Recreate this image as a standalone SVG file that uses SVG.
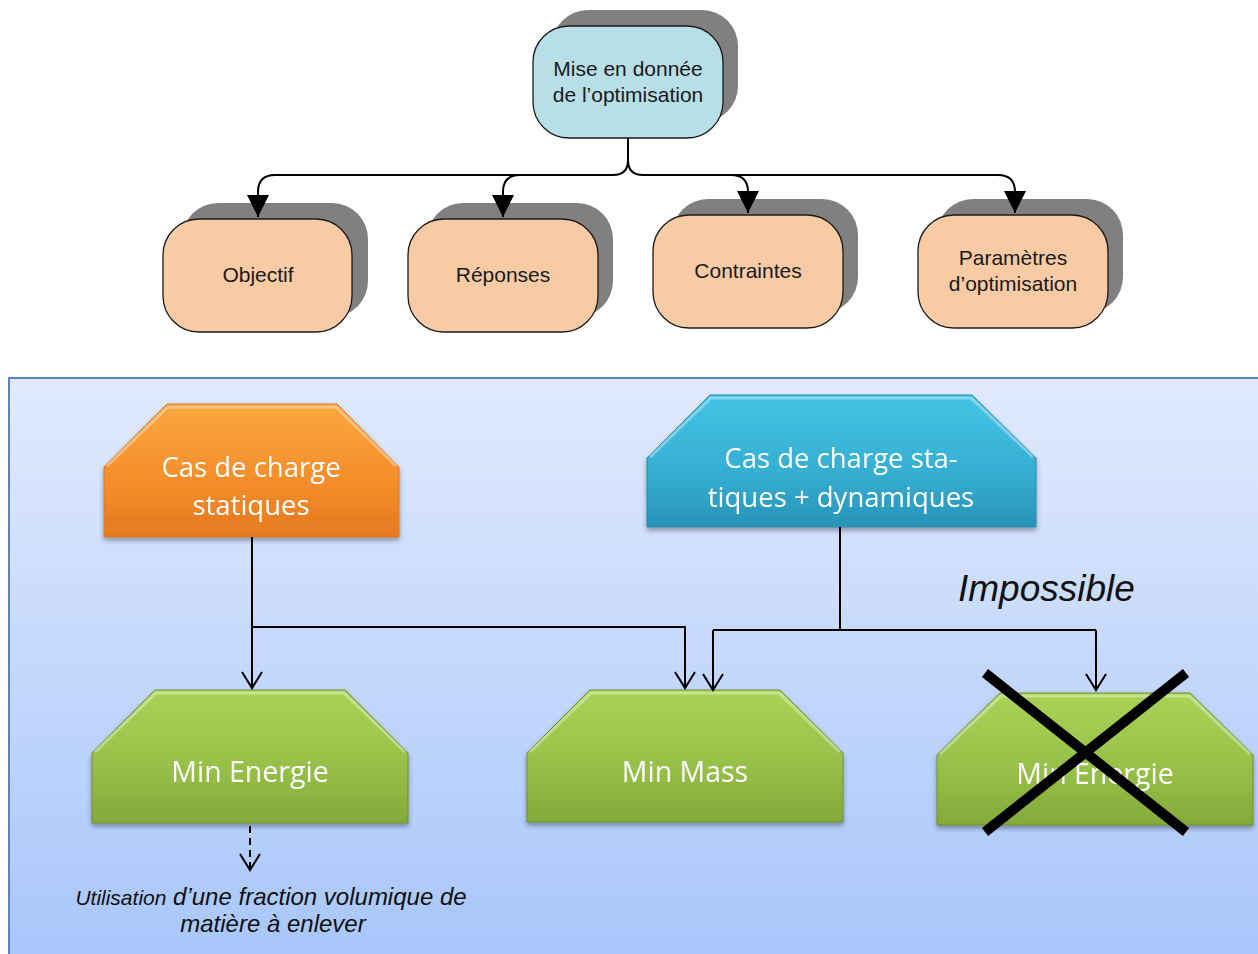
<svg xmlns="http://www.w3.org/2000/svg" width="1258" height="954" viewBox="0 0 1258 954">
<defs>
<linearGradient id="panelG" x1="0" y1="0" x2="0" y2="1">
<stop offset="0" stop-color="#e1eafd"/>
<stop offset="1" stop-color="#a6c5fb"/>
</linearGradient>
<linearGradient id="orangeG" x1="0" y1="0" x2="0" y2="1">
<stop offset="0" stop-color="#fca63f"/>
<stop offset="0.6" stop-color="#f48d2a"/>
<stop offset="1" stop-color="#e5781f"/>
</linearGradient>
<linearGradient id="blueG" x1="0" y1="0" x2="0" y2="1">
<stop offset="0" stop-color="#44c3e4"/>
<stop offset="0.6" stop-color="#35aed2"/>
<stop offset="1" stop-color="#2893b6"/>
</linearGradient>
<linearGradient id="greenG" x1="0" y1="0" x2="0" y2="1">
<stop offset="0" stop-color="#a9d356"/>
<stop offset="0.6" stop-color="#96bf47"/>
<stop offset="1" stop-color="#83a93a"/>
</linearGradient>
<filter id="sh" x="-10%" y="-10%" width="120%" height="130%">
<feDropShadow dx="0" dy="3" stdDeviation="2.5" flood-color="#000" flood-opacity="0.35"/>
</filter>
<marker id="fill" markerUnits="userSpaceOnUse" markerWidth="24" markerHeight="24" viewBox="0 0 24 24" refX="22" refY="12" orient="auto">
<path d="M0,1 L22,12 L0,23 Z" fill="#000"/>
</marker>
<marker id="open" markerUnits="userSpaceOnUse" markerWidth="20" markerHeight="22" viewBox="0 0 20 22" refX="17" refY="11" orient="auto">
<path d="M1,1 L17,11 L1,21" fill="none" stroke="#000" stroke-width="2"/>
</marker>
</defs>
<style>
.shadow{fill:#808080}
.top{fill:#b8dfe8;stroke:#1a1a1a;stroke-width:1.3}
.sub{fill:#f8cba5;stroke:#1a1a1a;stroke-width:1.3}
.t1{font-family:"Liberation Sans",Arial,sans-serif;font-size:21px;fill:#1a1a1a;text-anchor:middle}
.t2{font-family:"Open Sans","Noto Sans",sans-serif;font-size:27.5px;fill:#fff;text-anchor:middle}
.t3{font-family:"Open Sans","Noto Sans",sans-serif;font-size:28.5px;fill:#fff;text-anchor:middle}
.hl{fill:none;stroke:#fff;stroke-opacity:0.35;stroke-width:3}
.c{fill:none;stroke:#000;stroke-width:2}
.it{font-family:"Liberation Sans",Arial,sans-serif;font-style:italic;fill:#111}
</style>
<rect x="9" y="378" width="1270" height="600" fill="url(#panelG)" stroke="#5a84bd" stroke-width="2"/>

<g id="node-mise">
<rect class="shadow" x="552" y="10" width="186" height="112" rx="36"/>
<rect class="top" x="533" y="26" width="190" height="112" rx="36"/>
<text class="t1" x="628" y="76">Mise en donnée</text>
<text class="t1" x="628" y="102">de l’optimisation</text>
</g>
<g id="node-objectif">
<rect class="shadow" x="182" y="203" width="186" height="114" rx="36"/>
<rect class="sub" x="163" y="219" width="189" height="113" rx="36"/>
<text class="t1" x="258" y="282">Objectif</text>
</g>
<g id="node-reponses">
<rect class="shadow" x="427" y="203" width="186" height="114" rx="36"/>
<rect class="sub" x="408" y="219" width="190" height="113" rx="36"/>
<text class="t1" x="503" y="282">Réponses</text>
</g>
<g id="node-contraintes">
<rect class="shadow" x="672" y="199" width="186" height="114" rx="36"/>
<rect class="sub" x="653" y="215" width="190" height="113" rx="36"/>
<text class="t1" x="748" y="278">Contraintes</text>
</g>
<g id="node-parametres">
<rect class="shadow" x="937" y="199" width="186" height="114" rx="36"/>
<rect class="sub" x="918" y="215" width="190" height="113" rx="36"/>
<text class="t1" x="1013" y="265">Paramètres</text>
<text class="t1" x="1013" y="291">d’optimisation</text>
</g>

<g id="node-statiques" filter="url(#sh)">
<polygon points="104,467 167,404 337,404 399,467 399,537 104,537" fill="url(#orangeG)" stroke="#d97a2a" stroke-width="1"/>
<polyline class="hl" points="107,466 168,407 336,407 396,466"/>
<text class="t2" x="251" y="477">Cas de charge</text>
<text class="t2" x="251" y="515">statiques</text>
</g>
<g id="node-dynamiques" filter="url(#sh)">
<polygon points="647,458 710,395 972,395 1036,458 1036,527 647,527" fill="url(#blueG)" stroke="#2a8aa8" stroke-width="1"/>
<polyline class="hl" points="650,457 711,398 971,398 1033,457"/>
<text class="t2" x="841" y="468">Cas de charge sta-</text>
<text class="t2" x="841" y="507">tiques + dynamiques</text>
</g>
<g id="node-minenergie" filter="url(#sh)">
<polygon points="92,753 155,690 345,690 408,753 408,823 92,823" fill="url(#greenG)" stroke="#6f8f30" stroke-width="1"/>
<polyline class="hl" points="95,752 156,693 344,693 405,752"/>
<text class="t3" x="250" y="782">Min Energie</text>
</g>
<g id="node-minmass" filter="url(#sh)">
<polygon points="527,753 590,690 780,690 843,753 843,822 527,822" fill="url(#greenG)" stroke="#6f8f30" stroke-width="1"/>
<polyline class="hl" points="530,752 591,693 779,693 840,752"/>
<text class="t3" x="685" y="782">Min Mass</text>
</g>
<g id="node-minenergie2">
<g filter="url(#sh)">
<polygon points="937,755 1000,693 1190,693 1253,755 1253,825 937,825" fill="url(#greenG)" stroke="#6f8f30" stroke-width="1"/>
<polyline class="hl" points="940,754 1001,696 1189,696 1250,754"/>
<text class="t3" x="1095" y="784">Min Energie</text>
</g>
<line x1="985" y1="673" x2="1186" y2="832" stroke="#000" stroke-width="10"/>
<line x1="1186" y1="673" x2="985" y2="832" stroke="#000" stroke-width="10"/>
</g>

<g id="connectors">
<path class="c" d="M628,138 L628,160 Q628,175 613,175 L275,175 Q258,175 258,192 L258,217" marker-end="url(#fill)"/>
<path class="c" d="M628,160 Q628,175 643,175 L998,175 Q1015,175 1015,192 L1015,213" marker-end="url(#fill)"/>
<path class="c" d="M520,175 Q503,175 503,192 L503,217" marker-end="url(#fill)"/>
<path class="c" d="M731,175 Q748,175 748,192 L748,213" marker-end="url(#fill)"/>
<path class="c" d="M252,537 L252,688" marker-end="url(#open)"/>
<path class="c" d="M252,627 L685,627 L685,688" marker-end="url(#open)"/>
<path class="c" d="M840,527 L840,630"/>
<path class="c" d="M713,630 L1096,630"/>
<path class="c" d="M713,630 L713,690" marker-end="url(#open)"/>
<path class="c" d="M1096,630 L1096,690" marker-end="url(#open)"/>
<path class="c" d="M250,826 L250,870" stroke-dasharray="7,5" marker-end="url(#open)"/>
</g>

<text class="it" x="958" y="601" font-size="37">Impossible</text>
<text class="it" x="271" y="905" font-size="24" text-anchor="middle"><tspan font-size="21">Utilisation</tspan> d’une fraction volumique de</text>
<text class="it" x="273" y="932" font-size="24" text-anchor="middle">matière à enlever</text>
</svg>
